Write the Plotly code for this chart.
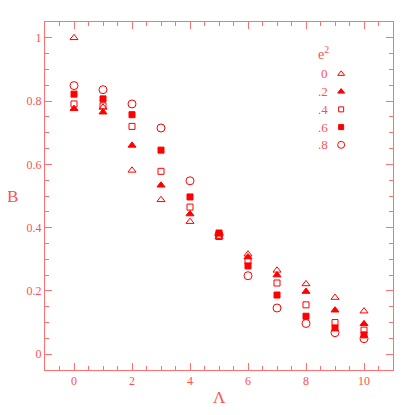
import plotly.graph_objects as go

# Lambda values and B for each e^2
lam = [0, 1, 2, 3, 4, 5, 6, 7, 8, 9, 10]
e2_labels = ["0", ".2", ".4", ".6", ".8"]
b_e0 = [1.000, 0.780, 0.581, 0.488, 0.419, 0.370, 0.316, 0.265, 0.222, 0.179, 0.136]
b_e2 = [0.776, 0.765, 0.660, 0.534, 0.443, 0.380, 0.307, 0.250, 0.198, 0.139, 0.096]
b_e4 = [0.791, 0.785, 0.720, 0.578, 0.465, 0.372, 0.294, 0.225, 0.156, 0.100, 0.076]
b_e6 = [0.822, 0.807, 0.757, 0.645, 0.497, 0.383, 0.279, 0.187, 0.120, 0.083, 0.061]
b_e8 = [0.849, 0.836, 0.791, 0.715, 0.548, 0.378, 0.248, 0.146, 0.097, 0.068, 0.049]

series = [b_e0, b_e2, b_e4, b_e6, b_e8]
symbols = ["triangle-up-open", "triangle-up", "square-open", "square", "circle-open"]
sizes = [7, 7, 6, 6, 8]

RED = "#ff0000"
AXIS = "#ff7070"
TEXT = "#ff5050"
FONT = "Liberation Serif"

fig = go.Figure()
for vals, sym, sz in zip(series, symbols, sizes):
    fig.add_trace(go.Scatter(
        x=lam, y=vals, mode="markers", showlegend=False,
        marker=dict(symbol=sym, size=sz, color=RED, line=dict(color=RED, width=1)),
    ))

# hand-made key: label on the left, symbol on the right (overlay axes 0..1)
key_top, key_step = 0.851, 0.051
for i, (lab, sym, sz) in enumerate(zip(e2_labels, symbols, sizes)):
    yk = key_top - i * key_step
    fig.add_trace(go.Scatter(
        x=[0.851], y=[yk], mode="markers", showlegend=False,
        xaxis="x2", yaxis="y2",
        marker=dict(symbol=sym, size=sz - 1, color=RED, line=dict(color=RED, width=1)),
    ))
    fig.add_annotation(x=0.818, y=yk, xref="x2", yref="y2", text=lab,
                       showarrow=False, xanchor="right",
                       font=dict(family=FONT, size=13, color=TEXT))
fig.add_annotation(x=0.80, y=0.911, xref="x2", yref="y2", text="e<sup>2</sup>",
                   showarrow=False, xanchor="center",
                   font=dict(family=FONT, size=14, color=TEXT))

# axis titles, upright as in the original
fig.add_annotation(x=-0.092, y=0.5, xref="paper", yref="paper", text="B",
                   showarrow=False, xanchor="center", yanchor="middle",
                   font=dict(family=FONT, size=17, color=TEXT))
fig.add_annotation(x=0.5, y=-0.08, xref="paper", yref="paper", text="Λ",
                   showarrow=False, xanchor="center", yanchor="middle",
                   font=dict(family=FONT, size=17, color=TEXT))

axis_common = dict(
    showgrid=False, zeroline=False, showline=True, linecolor=AXIS, linewidth=1,
    mirror="ticks", ticks="inside", tickcolor=AXIS, ticklen=7, automargin=False,
    tickfont=dict(family=FONT, size=12, color=TEXT),
)

# page body adds an 8px offset, so the figure is 407px and margins shrink by 8
fig.update_layout(
    width=407, height=407,
    margin=dict(l=37, r=22, t=14, b=45),
    paper_bgcolor="white", plot_bgcolor="white",
    xaxis=dict(range=[-1, 11], dtick=2, tick0=0,
               minor=dict(dtick=0.5, ticks="inside", ticklen=4, tickcolor=AXIS),
               **axis_common),
    yaxis=dict(range=[-0.05, 1.05], dtick=0.2, tick0=0,
               minor=dict(dtick=0.05, ticks="inside", ticklen=4, tickcolor=AXIS),
               **axis_common),
    xaxis2=dict(range=[0, 1], overlaying="x", visible=False),
    yaxis2=dict(range=[0, 1], overlaying="y", visible=False),
)

fig.write_html("out.html")
